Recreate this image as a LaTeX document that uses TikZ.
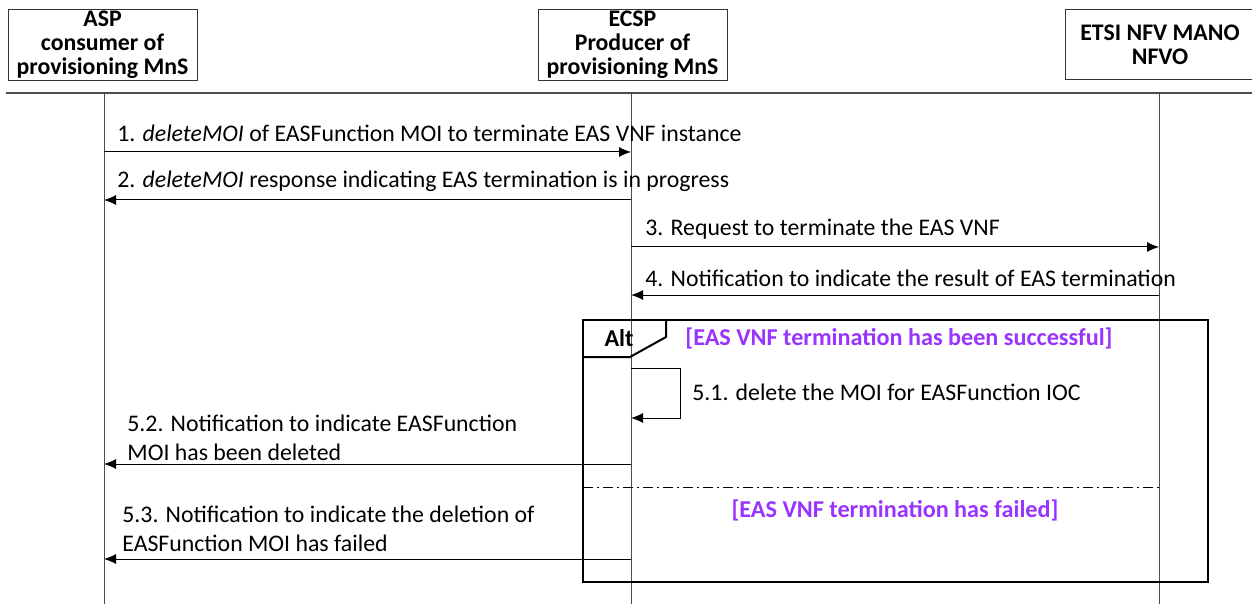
\documentclass[tikz,border=0pt]{standalone}
\usepackage{fontspec}
\setmainfont{Carlito}
\usetikzlibrary{arrows.meta}
\definecolor{guardpurple}{RGB}{153,51,255}
\tikzset{
	actor/.style={draw=black!80, line width=0.5pt, minimum width=94.5pt, minimum height=35pt, align=center, font=\fontsize{11.9}{12}\selectfont\bfseries, inner sep=1pt},
	lifeline/.style={draw=black!70, line width=0.5pt},
	msg/.style={line width=0.5pt, -{Latex[length=6pt,width=5pt]}},
	msglabel/.style={anchor=west, align=left, inner sep=2pt, font=\fontsize{11.9}{14.3}\selectfont},
	guard/.style={text=guardpurple, font=\fontsize{12.1}{14}\selectfont\bfseries, inner sep=2pt},
	frame/.style={line width=1pt}
}
\begin{document}
\begin{tikzpicture}[x=0.5pt,y=-0.5pt]
	\useasboundingbox (0,0) rectangle (1252,604);

	\node[actor] (asp) at (102.5,45) {ASP\\consumer of\\provisioning MnS};
	\node[actor] (ecsp) at (632.5,45) {ECSP\\Producer of\\provisioning MnS};
	\node[actor] (nfvo) at (1160,45) {ETSI NFV MANO\\NFVO};

	\coordinate (sepL) at (6,93);
	\coordinate (sepR) at (1252,93);
	\draw[draw=black!70, line width=1pt] (sepL) -- (sepR);%header line

	\coordinate (aspTop) at (104,93);
	\coordinate (aspBot) at (104,604);
	\coordinate (ecspTop) at (631,93);
	\coordinate (ecspBot) at (631,604);
	\coordinate (nfvoTop) at (1159,93);
	\coordinate (nfvoBot) at (1159,604);
	\draw[lifeline] (aspTop) -- (aspBot);%lifeline ASP
	\draw[lifeline] (ecspTop) -- (ecspBot);%lifeline ECSP
	\draw[lifeline] (nfvoTop) -- (nfvoBot);%lifeline NFVO

	% messages 1 to 4
	\coordinate (m1a) at (104,152);
	\coordinate (m1b) at (631,152);
	\draw[msg] (m1a) -- (m1b);
	\node[msglabel] (l1) at (113,133) {1. \textit{deleteMOI} of EASFunction MOI to terminate EAS VNF instance};

	\coordinate (m2a) at (631,200);
	\coordinate (m2b) at (104,200);
	\draw[msg] (m2a) -- (m2b);
	\node[msglabel] (l2) at (113,181) {2. \textit{deleteMOI} response indicating EAS termination is in progress};

	\coordinate (m3a) at (631,247);
	\coordinate (m3b) at (1159,247);
	\draw[msg] (m3a) -- (m3b);
	\node[msglabel] (l3) at (641,229) {3. Request to terminate the EAS VNF};

	\coordinate (m4a) at (1159,295);
	\coordinate (m4b) at (631,295);
	\draw[msg] (m4a) -- (m4b);
	\node[msglabel] (l4) at (641,278) {4. Notification to indicate the result of EAS termination};

	% alt frame
	\draw[frame] (583,320) rectangle (1208,582);
	\draw[frame] (583,357) -- (630,357) -- (666,337) -- (666,320);%tab
	\node[font=\fontsize{12.1}{14}\selectfont\bfseries] (alt) at (619,338) {Alt};
	\node[guard, anchor=west] (g1) at (681,338) {[EAS VNF termination has been successful]};

	\coordinate (s1a) at (631,368);
	\coordinate (s1b) at (680,368);
	\coordinate (s1c) at (680,418);
	\coordinate (s1d) at (631,418);
	\draw[msg] (s1a) -- (s1b) -- (s1c) -- (s1d);%self message
	\node[msglabel] (l51) at (688,392) {5.1. delete the MOI for EASFunction IOC};

	\coordinate (m52a) at (631,464);
	\coordinate (m52b) at (104,464);
	\draw[msg] (m52a) -- (m52b);
	\node[msglabel] (l52) at (123,438) {5.2. Notification to indicate EASFunction\\MOI has been deleted};

	\coordinate (dA) at (583,487);
	\coordinate (dB) at (1159,487);
	\draw[line width=0.5pt, dash pattern=on 5pt off 2pt on 1pt off 2pt] (dA) -- (dB);%operand separator
	\node[guard] (g2) at (895,510) {[EAS VNF termination has failed]};

	\coordinate (m53a) at (631,559);
	\coordinate (m53b) at (104,559);
	\draw[msg] (m53a) -- (m53b);
	\node[msglabel] (l53) at (118,529) {5.3. Notification to indicate the deletion of\\EASFunction MOI has failed};
\end{tikzpicture}
\end{document}
